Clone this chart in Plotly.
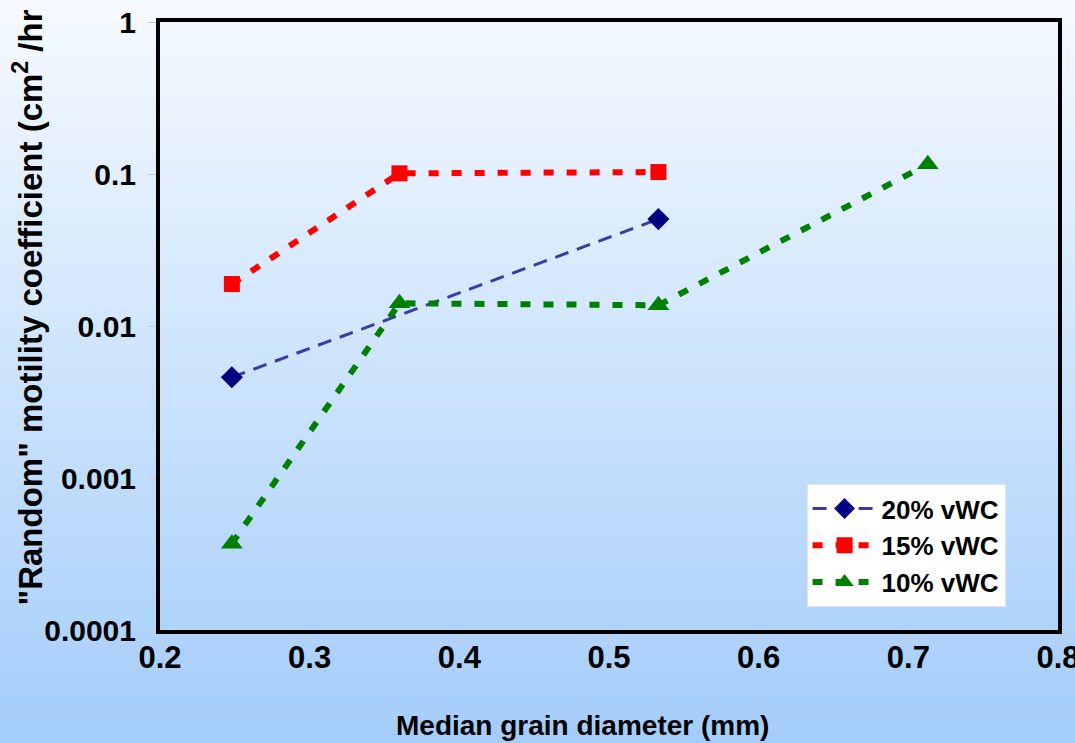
import plotly.graph_objects as go

series_names = ["20% vWC", "15% vWC", "10% vWC"]
x20 = [0.248, 0.533]
y20 = [0.0046, 0.0505]
x15 = [0.248, 0.36, 0.533]
y15 = [0.0189, 0.101, 0.103]
x10 = [0.248, 0.36, 0.533, 0.713]
y10 = [0.00037, 0.0141, 0.0137, 0.116]

x_ticks = [0.2, 0.3, 0.4, 0.5, 0.6, 0.7, 0.8]
x_tick_text = ["0.2", "0.3", "0.4", "0.5", "0.6", "0.7", "0.8"]
y_ticks = [0.0001, 0.001, 0.01, 0.1, 1]
y_tick_text = ["0.0001", "0.001", "0.01", "0.1", "1"]

FONT = "Liberation Sans, Arial, sans-serif"

fig = go.Figure()
fig.add_trace(go.Scatter(x=x20, y=y20, name=series_names[0], mode="lines+markers",
                         line=dict(color="#3a3aa8", width=3, dash="14px,9px"),
                         marker=dict(symbol="diamond", size=17, color="#000080")))
fig.add_trace(go.Scatter(x=x15, y=y15, name=series_names[1], mode="lines+markers",
                         line=dict(color="#ff0000", width=6, dash="10px,13px"),
                         marker=dict(symbol="square", size=16, color="#ff0000")))
fig.add_trace(go.Scatter(x=x10, y=y10, name=series_names[2], mode="lines+markers",
                         line=dict(color="#008000", width=6, dash="10px,13px"),
                         marker=dict(symbol="triangle-up", size=19, color="#008000")))

# background gradient bands (paper refs, below plot area)
shapes = []
n = 60
top = (246, 250, 255)
bot = (164, 205, 250)
for i in range(n):
    t = i / (n - 1)
    c = tuple(int(round(top[k] + (bot[k] - top[k]) * t)) for k in range(3))
    y1 = 1.04 - (i / n) * 1.23
    y0 = 1.04 - ((i + 1) / n) * 1.23
    shapes.append(dict(type="rect", xref="paper", yref="paper", x0=-0.2, x1=1.03,
                       y0=y0 - 0.002, y1=y1 + 0.002, fillcolor="rgb(%d,%d,%d)" % c,
                       line=dict(width=0), layer="below"))

fig.update_layout(
    width=1075, height=743,
    margin=dict(l=160, r=17, t=22, b=113, autoexpand=False),
    paper_bgcolor="#dbe9fc",
    plot_bgcolor="white",
    shapes=shapes,
    font=dict(family=FONT, color="black"),
    showlegend=True,
    legend=dict(x=0.72, y=0.24, xanchor="left", yanchor="top",
                bgcolor="white", bordercolor="#e4e4e4", borderwidth=1,
                font=dict(size=26, family=FONT, weight="bold"),
                itemwidth=64, tracegroupgap=0),
    xaxis=dict(range=[0.2, 0.8], tickvals=x_ticks, ticktext=x_tick_text,
               showgrid=False, zeroline=False, automargin=False,
               showline=True, linecolor="black", linewidth=4, mirror=True,
               ticks="outside", ticklen=8, tickcolor="#c8c8c8", tickwidth=1,
               ticklabeloverflow="allow", ticklabelstandoff=-11,
               tickfont=dict(size=31, family=FONT, weight="bold")),
    yaxis=dict(type="log", range=[-4, 0], tickvals=y_ticks, ticktext=y_tick_text,
               showgrid=False, zeroline=False, automargin=False,
               showline=True, linecolor="black", linewidth=4, mirror=True,
               ticks="outside", ticklen=8, tickcolor="#c8c8c8", tickwidth=1,
               ticklabelstandoff=6, ticklabeloverflow="allow",
               tickfont=dict(size=30, family=FONT, weight="bold")),
    annotations=[
        dict(text='"Random" motility coefficient (cm<sup>2</sup> /hr',
             xref="paper", yref="paper", x=-0.147, y=0.037,
             xanchor="center", yanchor="bottom", textangle=-90,
             showarrow=False,
             font=dict(size=33, family=FONT, weight="bold", color="black")),
        dict(text="Median grain diameter (mm)",
             xref="paper", yref="paper", x=0.47, y=-0.157,
             xanchor="center", yanchor="middle", showarrow=False,
             font=dict(size=28, family=FONT, weight="bold", color="black")),
    ],
)

fig.write_html("out.html", config={"displayModeBar": False},
               post_script="document.body.style.margin='0';document.body.style.overflow='hidden';")
